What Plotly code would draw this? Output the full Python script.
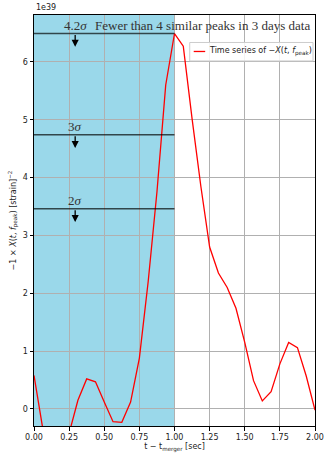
import plotly.graph_objects as go

# time relative to merger [sec]
t_vals = [0.0, 0.0625, 0.125, 0.1875, 0.25, 0.3125, 0.375, 0.4375, 0.5, 0.5625,
          0.625, 0.6875, 0.75, 0.8125, 0.875, 0.9375, 1.0, 1.0625, 1.125, 1.1875,
          1.25, 1.3125, 1.375, 1.4375, 1.5, 1.5625, 1.625, 1.6875, 1.75, 1.8125,
          1.875, 1.9375, 2.0]
# -X(t, f_peak) in units of 1e39
x_vals = [0.58, -0.34, -0.9, -0.85, -0.42, 0.15, 0.52, 0.47, 0.12, -0.22,
          -0.23, 0.12, 0.88, 2.2, 3.75, 5.6, 6.49, 6.27, 5.02, 3.85,
          2.8, 2.35, 2.1, 1.74, 1.15, 0.49, 0.14, 0.3, 0.78, 1.15,
          1.06, 0.57, -0.02]

sigma_labels = ["4.2<i>σ</i>", "3<i>σ</i>", "2<i>σ</i>"]
sigma_levels = [6.49, 4.74, 3.46]
note_text = "Fewer than 4 similar peaks in 3 days data"
legend_label = "Time series of −<i>X</i>(<i>t</i>, <i>f</i><sub>peak</sub>)"
x_ticks = [0.0, 0.25, 0.5, 0.75, 1.0, 1.25, 1.5, 1.75, 2.0]
y_ticks = [0, 1, 2, 3, 4, 5, 6]

RED = "#ff0000"
fig = go.Figure()
fig.add_trace(go.Scatter(
    x=t_vals, y=x_vals, mode="lines",
    line=dict(color=RED, width=1.3),
    name="Time series of −X(t, f_peak)",
    showlegend=False,
))

shapes = [dict(type="rect", xref="x", yref="paper", x0=0, x1=1.0, y0=0, y1=1,
               fillcolor="#9ad8ea", line=dict(width=0), layer="below")]
annotations = []
arrow_x = 0.293
for lab, lev in zip(sigma_labels, sigma_levels):
    shapes.append(dict(type="line", xref="x", yref="y", x0=0, x1=1.0, y0=lev, y1=lev,
                       line=dict(color="rgba(0,0,0,0.68)", width=1.5)))
    annotations.append(dict(x=arrow_x, y=lev - 0.23, xref="x", yref="y",
                            ax=arrow_x, ay=lev, axref="x", ayref="y",
                            showarrow=True, arrowhead=2, arrowsize=1.1, arrowwidth=1.3,
                            arrowcolor="black", text=""))
    annotations.append(dict(x=arrow_x, y=lev, xref="x", yref="y", text=lab,
                            showarrow=False, xanchor="center", yanchor="bottom", yshift=-1,
                            font=dict(family="Liberation Serif", size=13, color="#333")))
annotations.append(dict(x=0.42, y=sigma_levels[0], xref="x", yref="y", text=note_text,
                        showarrow=False, xanchor="left", yanchor="bottom", yshift=-1,
                        font=dict(family="Liberation Serif", size=13, color="#333")))
annotations.append(dict(x=0, y=1, xref="paper", yref="paper", text="1e39",
                        showarrow=False, xanchor="left", yanchor="bottom", yshift=1,
                        font=dict(family="DejaVu Sans", size=8, color="#222")))

# custom legend box (paper coords relative to plot area)
L, R, B, T = 34, 315.5, 426.3, 15
W, H = R - L, B - T
def px(xp):
    return (xp - L) / W
def py(yp):
    return (B - yp) / H
shapes.append(dict(type="rect", xref="paper", yref="paper",
                   x0=px(190), x1=px(313.5), y0=py(61), y1=py(42.5),
                   fillcolor="rgba(255,255,255,0.85)", line=dict(color="#cccccc", width=1)))
shapes.append(dict(type="line", xref="paper", yref="paper",
                   x0=px(194), x1=px(205.5), y0=py(51.5), y1=py(51.5),
                   line=dict(color=RED, width=1.3)))
annotations.append(dict(x=px(207.5), y=py(51.5), xref="paper", yref="paper",
                        text=legend_label, showarrow=False, xanchor="left", yanchor="middle",
                        font=dict(family="DejaVu Sans", size=8, color="#222")))

axis_common = dict(showline=True, linecolor="black", linewidth=1, mirror=True,
                   ticks="outside", ticklen=3.5, tickwidth=0.8, tickcolor="black",
                   showgrid=True, gridcolor="#b0b0b0", gridwidth=1, zeroline=False,
                   automargin=False,
                   tickfont=dict(family="DejaVu Sans", size=8, color="#222"))

fig.update_layout(
    width=326, height=453,
    margin=dict(l=L, r=326 - R, t=T, b=453 - B),
    paper_bgcolor="white", plot_bgcolor="white",
    shapes=shapes, annotations=annotations, showlegend=False,
    xaxis=dict(range=[0, 2.0], tickvals=x_ticks,
               ticktext=[f"{v:.2f}" for v in x_ticks],
               title=dict(text="t − t<sub>merger</sub> [sec]", standoff=2,
                          font=dict(family="DejaVu Sans", size=8, color="#222")),
               **axis_common),
    yaxis=dict(range=[-0.294, 6.81], tickvals=y_ticks,
               ticktext=[str(v) for v in y_ticks],
               title=dict(text="−1 × <i>X</i>(<i>t</i>, <i>f</i><sub>peak</sub>) [strain]<sup>−2</sup>",
                          standoff=5,
                          font=dict(family="DejaVu Sans", size=8, color="#222")),
               **axis_common),
)

fig.write_html("out.html", config={"displayModeBar": False},
               post_script="document.body.style.margin='0';document.body.style.overflow='hidden';")
